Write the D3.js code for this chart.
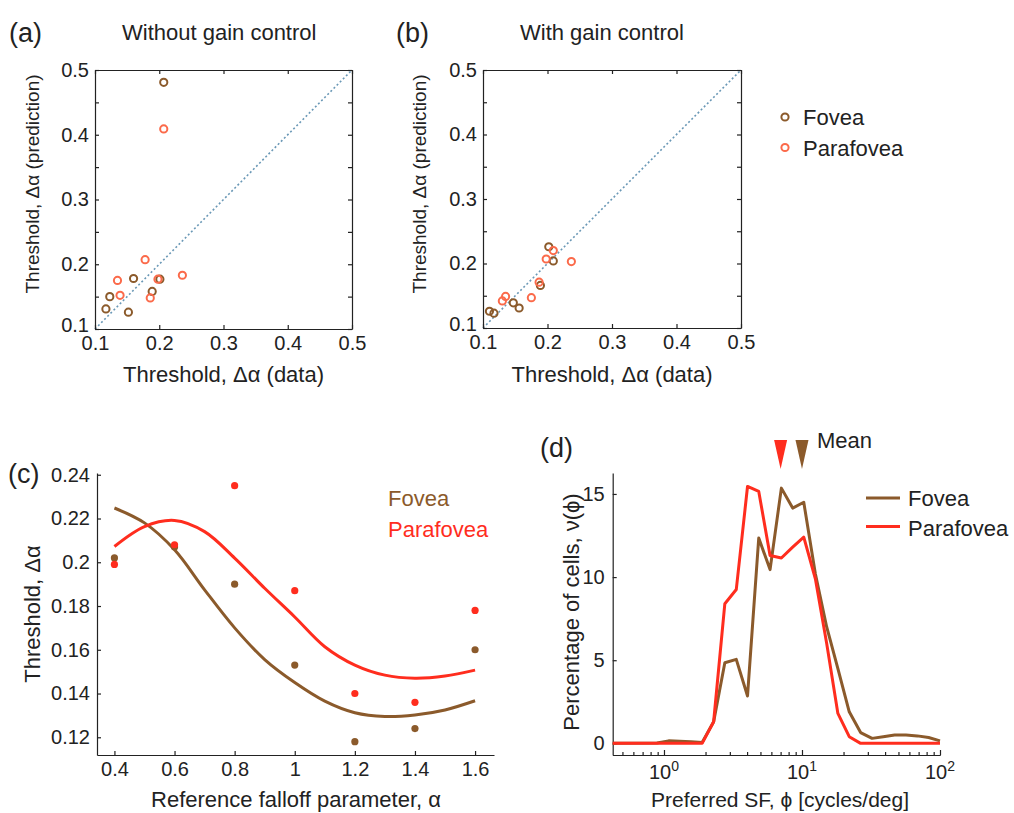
<!DOCTYPE html>
<html>
<head>
<meta charset="utf-8">
<script src="https://d3js.org/d3.v7.min.js"></script>
<style>
  body { margin: 0; background: #fff; }
  svg { font-family: "Liberation Sans", Arial, sans-serif; }
  .axis path, .axis line { stroke: #222; stroke-width: 1.2; }
  .axis text { fill: #222; font-size: 20px; }
</style>
</head>
<body>
<script>

// ---- data ----

// (a) without gain control: threshold data (x) vs prediction (y)
var fovDataA = [0.207, 0.160, 0.201, 0.189, 0.123, 0.117, 0.152];
var fovPredA = [0.481, 0.178, 0.177, 0.158, 0.150, 0.131, 0.126];
var paraDataA = [0.207, 0.178, 0.135, 0.139, 0.198, 0.186, 0.236];
var paraPredA = [0.409, 0.207, 0.175, 0.152, 0.177, 0.148, 0.183];

// (b) with gain control
var fovDataB = [0.202, 0.209, 0.189, 0.110, 0.117, 0.147, 0.156];
var fovPredB = [0.226, 0.204, 0.166, 0.126, 0.123, 0.139, 0.131];
var paraDataB = [0.209, 0.198, 0.237, 0.187, 0.175, 0.135, 0.130];
var paraPredB = [0.220, 0.207, 0.203, 0.171, 0.147, 0.149, 0.142];

var scatterTicks = [0.1, 0.2, 0.3, 0.4, 0.5];
var scatterMinor = [0.1, 0.15, 0.2, 0.25, 0.3, 0.35, 0.4, 0.45, 0.5];

// (c) threshold vs reference falloff parameter
var alphas = [0.4, 0.6, 0.8, 1.0, 1.2, 1.4, 1.6];
var fovThresh = [0.202, 0.207, 0.190, 0.153, 0.118, 0.124, 0.160];
var paraThresh = [0.199, 0.208, 0.235, 0.187, 0.140, 0.136, 0.178];
var fitAlphas = [0.4, 0.5, 0.6, 0.7, 0.8, 0.9, 1.0, 1.1, 1.2, 1.3, 1.4, 1.5, 1.6];
var fovFit = [0.2248, 0.2180, 0.2057, 0.1874, 0.1700, 0.1555, 0.1450, 0.1365, 0.1312, 0.1295, 0.1302, 0.1325, 0.1367];
var paraFit = [0.2072, 0.2163, 0.2191, 0.2140, 0.2019, 0.1881, 0.1750, 0.1614, 0.1530, 0.1484, 0.1470, 0.1480, 0.1507];
var alphaTicks = [0.4, 0.6, 0.8, 1.0, 1.2, 1.4, 1.6];
var threshTicks = [0.12, 0.14, 0.16, 0.18, 0.2, 0.22, 0.24];

// (d) distribution of preferred spatial frequency
var sfBins = [0.425, 0.89, 1.08, 1.30, 1.57, 1.89, 2.29, 2.76, 3.34, 4.03, 4.86, 5.87, 7.09, 8.56,
              10.3, 12.5, 15.1, 18.2, 22.0, 26.6, 32.2, 38.8, 46.9, 56.7, 68.5, 82.7, 100];
var fovPct = [0, 0.02, 0.15, 0.13, 0.10, 0.05, 1.3, 4.85, 5.05, 2.85, 12.35, 10.45, 15.35, 14.15,
              14.5, 10.2, 7.0, 4.5, 1.9, 0.65, 0.3, 0.4, 0.5, 0.5, 0.45, 0.35, 0.15];
var paraPct = [0, 0, 0, 0, 0, 0, 1.3, 8.4, 9.25, 15.45, 15.15, 11.3, 11.15, 11.8,
               12.4, 9.9, 6.0, 1.8, 0.4, 0, 0, 0, 0, 0, 0, 0, 0];
var meanSF = {para: 7.0, fov: 10.0};
var pctTicks = [0, 5, 10, 15];
var sfDecades = [1, 10, 100];
var sfMinor = [0.5, 0.6, 0.7, 0.8, 0.9, 2, 3, 4, 5, 6, 7, 8, 9, 20, 30, 40, 50, 60, 70, 80, 90];

var brown = "#8b5a2b";
var red = "#ff2d1e";
var coral = "#fb6a4a";

var svg = d3.select("body").append("svg")
    .attr("width", 1014)
    .attr("height", 813);

// ---- (a) and (b) scatter panels ----
function scatterPanel(left, right, top, bottom, fx, fy, px, py, labelX) {
    var x = d3.scaleLinear().domain([0.1, 0.5]).range([left, right]);
    var y = d3.scaleLinear().domain([0.1, 0.5]).range([bottom, top]);
    var g = svg.append("g");

    // dotted identity line
    g.append("line")
        .attr("x1", x(0.1)).attr("y1", y(0.1))
        .attr("x2", x(0.5)).attr("y2", y(0.5))
        .attr("stroke", "#6a98b6")
        .attr("stroke-width", 1.6)
        .attr("stroke-dasharray", "2,2.4");

    var fmt = function(d) {
        return Math.round(d * 100) % 10 === 0 ? d3.format(".1f")(d) : "";
    };

    g.append("g").attr("class", "axis")
        .attr("transform", "translate(0," + bottom + ")")
        .call(d3.axisBottom(x).tickValues(scatterTicks).tickFormat(d3.format(".1f")).tickSize(-4).tickSizeOuter(0).tickPadding(7));
    g.append("g").attr("class", "axis")
        .attr("transform", "translate(0," + top + ")")
        .call(d3.axisTop(x).tickValues(scatterTicks).tickFormat("").tickSize(-4).tickSizeOuter(0));
    var yAx = g.append("g").attr("class", "axis")
        .attr("transform", "translate(" + left + ",0)")
        .call(d3.axisLeft(y).tickValues(scatterMinor).tickFormat(fmt).tickSize(-4).tickSizeOuter(0).tickPadding(6));
    // lift the bottom label a little so it clears the x label
    yAx.selectAll(".tick text").filter(function(d) { return d === 0.1; }).attr("y", -4);
    g.append("g").attr("class", "axis")
        .attr("transform", "translate(" + right + ",0)")
        .call(d3.axisRight(y).tickValues(scatterMinor).tickFormat("").tickSize(-4).tickSizeOuter(0));

    var fov = fx.map(function(d, i) { return [d, fy[i]]; });
    var para = px.map(function(d, i) { return [d, py[i]]; });

    g.append("g").selectAll("circle")
        .data(fov)
        .enter().append("circle")
        .attr("cx", function(d) { return x(d[0]); })
        .attr("cy", function(d) { return y(d[1]); })
        .attr("r", 3.6)
        .attr("fill", "none")
        .attr("stroke", brown)
        .attr("stroke-width", 2);

    g.append("g").selectAll("circle")
        .data(para)
        .enter().append("circle")
        .attr("cx", function(d) { return x(d[0]); })
        .attr("cy", function(d) { return y(d[1]); })
        .attr("r", 3.6)
        .attr("fill", "none")
        .attr("stroke", coral)
        .attr("stroke-width", 2);

    // axis titles
    g.append("text")
        .attr("x", (left + right) / 2)
        .attr("y", 382)
        .attr("text-anchor", "middle")
        .style("font-size", "22px")
        .attr("fill", "#222")
        .text("Threshold, \u0394\u03b1 (data)");

    g.append("text")
        .attr("transform", "translate(" + labelX + ",184) rotate(-90)")
        .attr("text-anchor", "middle")
        .style("font-size", "19px")
        .attr("fill", "#222")
        .text("Threshold, \u0394\u03b1 (prediction)");
}

scatterPanel(95, 352, 70, 329, fovDataA, fovPredA, paraDataA, paraPredA, 39);
scatterPanel(483, 741, 70, 328, fovDataB, fovPredB, paraDataB, paraPredB, 426);

// panel titles
svg.append("text").attr("x", 9).attr("y", 42).style("font-size", "27px").attr("fill", "#222").text("(a)");
svg.append("text").attr("x", 122).attr("y", 40).style("font-size", "22px").attr("fill", "#222").text("Without gain control");
svg.append("text").attr("x", 396).attr("y", 42).style("font-size", "27px").attr("fill", "#222").text("(b)");
svg.append("text").attr("x", 520).attr("y", 40).style("font-size", "22px").attr("fill", "#222").text("With gain control");

// legend for (a)/(b)
var legAB = svg.append("g");
legAB.selectAll("circle")
    .data([brown, coral])
    .enter().append("circle")
    .attr("cx", 785)
    .attr("cy", function(d, i) { return 117 + i * 30.5; })
    .attr("r", 3.6)
    .attr("fill", "none")
    .attr("stroke", function(d) { return d; })
    .attr("stroke-width", 2);
legAB.selectAll("text")
    .data(["Fovea", "Parafovea"])
    .enter().append("text")
    .attr("x", 803)
    .attr("y", function(d, i) { return 125 + i * 30.5; })
    .style("font-size", "22px")
    .attr("fill", "#222")
    .text(function(d) { return d; });

// ---- (c) threshold vs alpha ----
var xc = d3.scaleLinear().domain([0.342, 1.663]).range([97, 494]);
var yc = d3.scaleLinear().domain([0.1119, 0.2408]).range([755, 473]);
var gc = svg.append("g");

gc.append("g").attr("class", "axis")
    .attr("transform", "translate(0,755)")
    .call(d3.axisBottom(xc).tickValues(alphaTicks).tickFormat(function(d) { return String(+d.toFixed(1)); })
        .tickSize(-4).tickSizeOuter(0).tickPadding(7));
gc.append("g").attr("class", "axis")
    .attr("transform", "translate(97,0)")
    .call(d3.axisLeft(yc).tickValues(threshTicks).tickFormat(function(d) { return String(+d.toFixed(2)); })
        .tickSize(-4).tickSizeOuter(0).tickPadding(7));

var lineC = d3.line()
    .x(function(d) { return xc(d[0]); })
    .y(function(d) { return yc(d[1]); })
    .curve(d3.curveCatmullRom);

gc.append("path")
    .datum(fitAlphas.map(function(d, i) { return [d, fovFit[i]]; }))
    .attr("d", lineC)
    .attr("fill", "none")
    .attr("stroke", brown)
    .attr("stroke-width", 3);
gc.append("path")
    .datum(fitAlphas.map(function(d, i) { return [d, paraFit[i]]; }))
    .attr("d", lineC)
    .attr("fill", "none")
    .attr("stroke", red)
    .attr("stroke-width", 3);

gc.append("g").selectAll("circle")
    .data(alphas.map(function(d, i) { return [d, fovThresh[i]]; }))
    .enter().append("circle")
    .attr("cx", function(d) { return xc(d[0]); })
    .attr("cy", function(d) { return yc(d[1]); })
    .attr("r", 3.6)
    .attr("fill", brown);
gc.append("g").selectAll("circle")
    .data(alphas.map(function(d, i) { return [d, paraThresh[i]]; }))
    .enter().append("circle")
    .attr("cx", function(d) { return xc(d[0]); })
    .attr("cy", function(d) { return yc(d[1]); })
    .attr("r", 3.6)
    .attr("fill", red);

gc.append("text").attr("x", 388).attr("y", 506).style("font-size", "22px").attr("fill", brown).text("Fovea");
gc.append("text").attr("x", 388).attr("y", 537).style("font-size", "22px").attr("fill", red).text("Parafovea");

gc.append("text")
    .attr("x", 296).attr("y", 807)
    .attr("text-anchor", "middle")
    .style("font-size", "22px")
    .attr("fill", "#222")
    .text("Reference falloff parameter, \u03b1");
gc.append("text")
    .attr("transform", "translate(40,614) rotate(-90)")
    .attr("text-anchor", "middle")
    .style("font-size", "22px")
    .attr("fill", "#222")
    .text("Threshold, \u0394\u03b1");
svg.append("text").attr("x", 8).attr("y", 483).style("font-size", "27px").attr("fill", "#222").text("(c)");

// ---- (d) preferred SF histogram ----
var xd = d3.scaleLog().domain([0.425, 100]).range([612.7, 940]);
var yd = d3.scaleLinear().domain([-0.7, 16.26]).range([755, 473]);
var gd = svg.append("g");

gd.append("g").attr("class", "axis")
    .attr("transform", "translate(0,755)")
    .call(d3.axisBottom(xd).tickValues(sfMinor).tickFormat("").tickSize(-3).tickSizeOuter(0));
gd.append("g").attr("class", "axis")
    .attr("transform", "translate(0,755)")
    .call(d3.axisBottom(xd).tickValues(sfDecades).tickFormat("").tickSize(-5).tickSizeOuter(0));
gd.append("g").attr("class", "axis")
    .attr("transform", "translate(612.7,0)")
    .call(d3.axisLeft(yd).tickValues(pctTicks).tickSize(-4).tickSizeOuter(0).tickPadding(8));

// decade labels with superscripts
var decLab = gd.append("g").selectAll("text")
    .data(sfDecades)
    .enter().append("text")
    .attr("x", function(d) { return xd(d); })
    .attr("y", 779)
    .attr("text-anchor", "middle")
    .style("font-size", "20px")
    .attr("fill", "#222");
decLab.append("tspan").text("10");
decLab.append("tspan")
    .attr("dy", -8)
    .style("font-size", "14px")
    .text(function(d) { return Math.round(Math.log10(d)); });

var lineD = d3.line()
    .x(function(d) { return xd(d[0]); })
    .y(function(d) { return yd(d[1]); });

gd.append("path")
    .datum(sfBins.map(function(d, i) { return [d, fovPct[i]]; }))
    .attr("d", lineD)
    .attr("fill", "none")
    .attr("stroke", brown)
    .attr("stroke-width", 3)
    .attr("stroke-linejoin", "round");
gd.append("path")
    .datum(sfBins.map(function(d, i) { return [d, paraPct[i]]; }))
    .attr("d", lineD)
    .attr("fill", "none")
    .attr("stroke", red)
    .attr("stroke-width", 3)
    .attr("stroke-linejoin", "round");

// mean markers
gd.selectAll(".mean")
    .data([[meanSF.para, red], [meanSF.fov, brown]])
    .enter().append("path")
    .attr("class", "mean")
    .attr("d", function(d) {
        var cx = xd(d[0]);
        return "M" + (cx - 6.5) + ",440L" + (cx + 6.5) + ",440L" + cx + ",469Z";
    })
    .attr("fill", function(d) { return d[1]; });
gd.append("text").attr("x", 817).attr("y", 448).style("font-size", "22px").attr("fill", "#222").text("Mean");

// legend (d)
var legD = gd.append("g");
legD.selectAll("line")
    .data([brown, red])
    .enter().append("line")
    .attr("x1", 866).attr("x2", 900)
    .attr("y1", function(d, i) { return 498 + i * 28.5; })
    .attr("y2", function(d, i) { return 498 + i * 28.5; })
    .attr("stroke", function(d) { return d; })
    .attr("stroke-width", 3);
legD.selectAll("text")
    .data(["Fovea", "Parafovea"])
    .enter().append("text")
    .attr("x", 908)
    .attr("y", function(d, i) { return 506 + i * 29.5; })
    .style("font-size", "22px")
    .attr("fill", "#222")
    .text(function(d) { return d; });

gd.append("text")
    .attr("x", 780).attr("y", 807)
    .attr("text-anchor", "middle")
    .style("font-size", "21px")
    .attr("fill", "#222")
    .text("Preferred SF, \u03d5 [cycles/deg]");
gd.append("text")
    .attr("transform", "translate(579,612) rotate(-90)")
    .attr("text-anchor", "middle")
    .style("font-size", "22px")
    .attr("fill", "#222")
    .text("Percentage of cells, \u03bd(\u03d5)");
svg.append("text").attr("x", 540).attr("y", 457).style("font-size", "27px").attr("fill", "#222").text("(d)");

</script>
</body>
</html>
